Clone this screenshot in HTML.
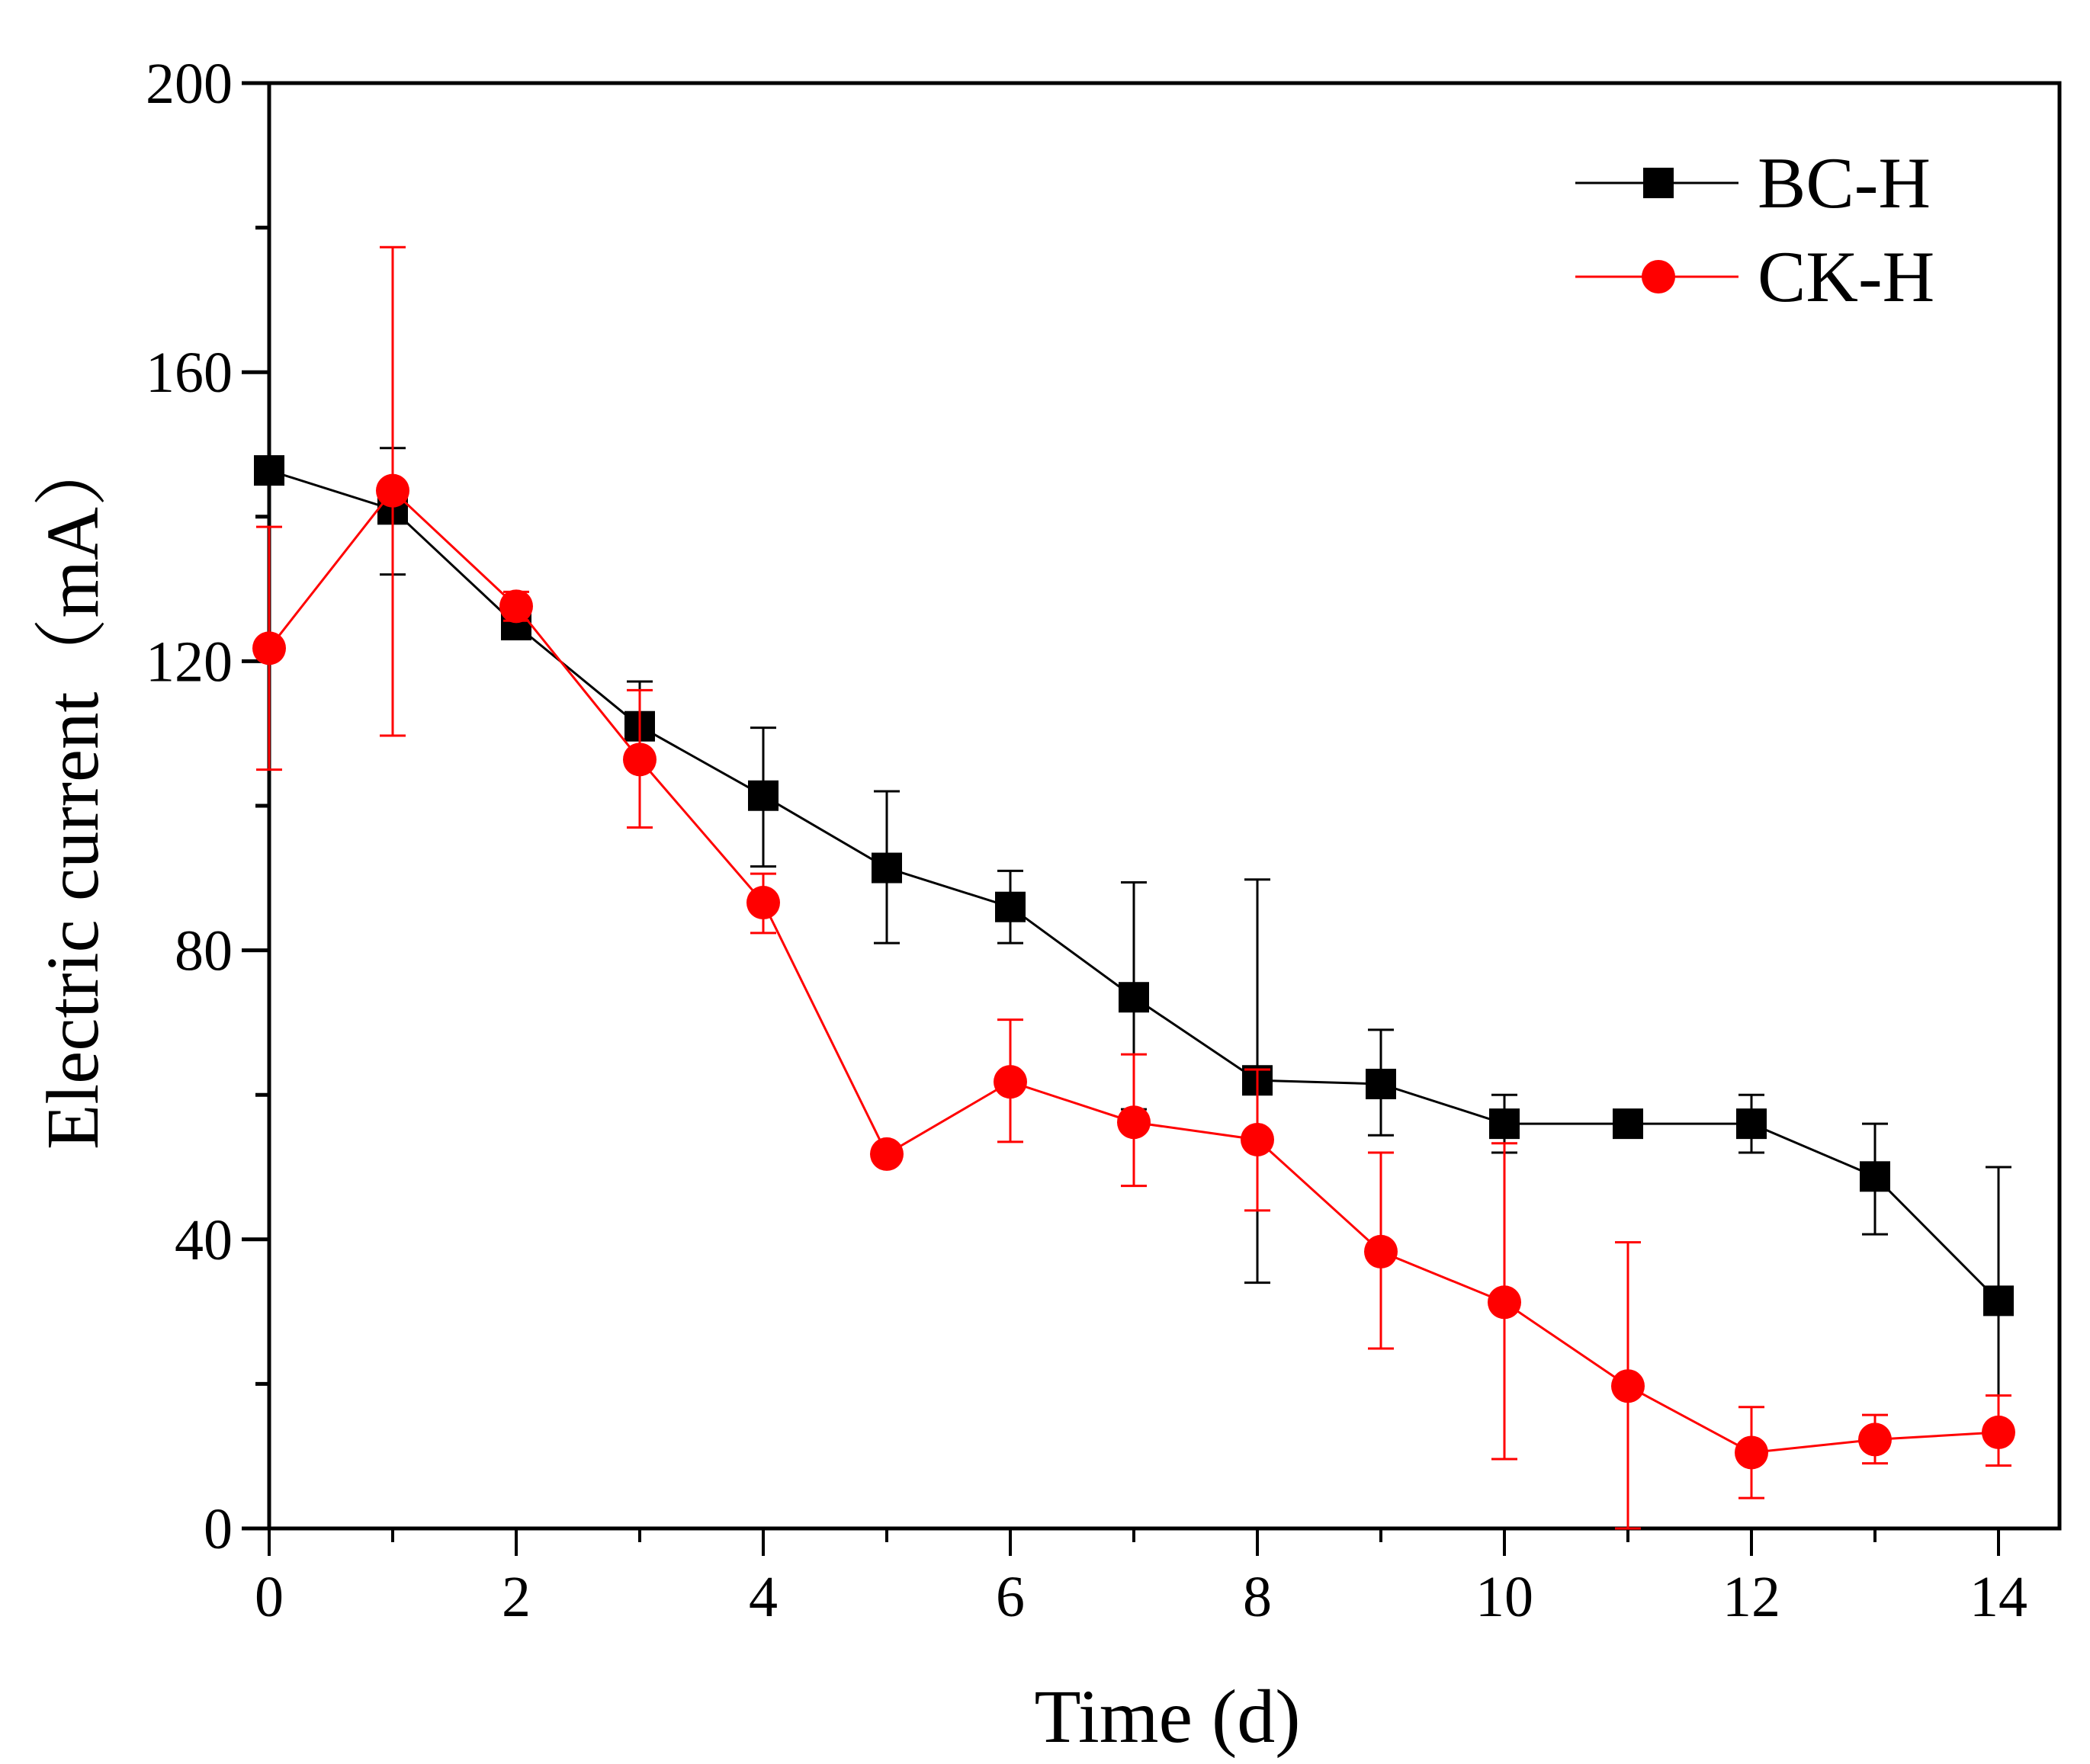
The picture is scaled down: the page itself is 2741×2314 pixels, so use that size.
<!DOCTYPE html>
<html><head><meta charset="utf-8"><style>html,body{margin:0;padding:0;background:#fff}</style></head>
<body>
<svg id="chart" width="2741" height="2309" xmlns="http://www.w3.org/2000/svg" font-family="'Liberation Serif', 'Noto Serif CJK SC', serif">
<g id="axes"></g>
<g id="series"></g>
<text x="1531" y="2285" font-size="100" text-anchor="middle">Time (d)</text>
<text transform="translate(128,1038) rotate(-90)" font-size="97" text-anchor="middle">Electric current（mA）</text>
<g>
<line x1="2066" y1="240" x2="2280" y2="240" stroke="#000" stroke-width="3"/>
<rect x="2155" y="220" width="40" height="40" fill="#000"/>
<text x="2305" y="272" font-size="95">BC-H</text>
<line x1="2066" y1="363" x2="2280" y2="363" stroke="#f00" stroke-width="3"/>
<circle cx="2175" cy="363" r="22" fill="#f00"/>
<text x="2305" y="395" font-size="95">CK-H</text>
</g>
</svg>
<script>
const days = [0,1,2,3,4,5,6,7,8,9,10,11,12,13,14];
const bcValues = [146.4,141,125,111,101.4,91.4,86,73.5,62,61.5,56,56,56,48.7,31.5];
const bcErrHigh = [146.4,149.5,126,117.2,110.8,102,91,89.4,89.8,69,60,56,60,56,50];
const bcErrLow = [146.4,132,124,109.5,91.6,81,81,58,34,54.4,52,56,52,40.7,12.7];
const ckValues = [121.8,143.6,127.6,106.4,86.6,51.8,61.8,56.2,53.8,38.3,31.3,19.7,10.5,12.3,13.3];
const ckErrHigh = [138.6,177.3,129.6,116,90.6,51.8,70.4,65.6,63.5,52,53.3,39.6,16.8,15.7,18.4];
const ckErrLow = [105,109.7,125.6,97,82.4,51.8,53.5,47.4,44,24.9,9.6,0,4.2,9,8.7];
const yTicks = [0,40,80,120,160,200];
const xTicks = [0,2,4,6,8,10,12,14];

const NS='http://www.w3.org/2000/svg';
const X0=353,XS=162,Y0=2005,YS=9.48,XR=2701,YT=109;
const sx=d=>X0+d*XS, sy=v=>Y0-v*YS;
function mk(tag,attrs,parent){const e=document.createElementNS(NS,tag);for(const k in attrs)e.setAttribute(k,attrs[k]);parent.appendChild(e);return e;}
const axes=document.getElementById('axes'), series=document.getElementById('series');
mk('rect',{x:X0,y:YT,width:XR-X0,height:Y0-YT,fill:'none',stroke:'#000','stroke-width':5},axes);
for(let v=0;v<=200;v+=20){const big=v%40===0;const t=mk('line',{x1:X0,x2:X0-(big?36:18),y1:sy(v),y2:sy(v),stroke:'#000','stroke-width':5},axes);

}
yTicks.forEach(v=>{const t=mk('text',{x:X0-48,y:sy(v)+26,'font-size':76,'text-anchor':'end'},axes);t.textContent=v;

});
for(let d=0;d<=14;d++){const big=d%2===0;const t=mk('line',{x1:sx(d),x2:sx(d),y1:Y0,y2:Y0+(big?36:18),stroke:'#000','stroke-width':4},axes);

}
xTicks.forEach(d=>{const t=mk('text',{x:sx(d),y:Y0+115,'font-size':76,'text-anchor':'middle'},axes);t.textContent=d;

});

function draw(vals,hi,lo,color,shape,name){
  const g=mk('g',{},series);
  
  
  days.forEach((d,i)=>{const x=sx(d);
    const e=mk('path',{d:`M${x-17},${sy(hi[i])}H${x+17}M${x},${sy(hi[i])}V${sy(lo[i])}M${x-17},${sy(lo[i])}H${x+17}`,stroke:color,'stroke-width':3,fill:'none'},g);
    
    });
  const l=mk('polyline',{points:days.map((d,i)=>sx(d)+','+sy(vals[i])).join(' '),fill:'none',stroke:color,'stroke-width':3},g);
  
  
  days.forEach((d,i)=>{let m;
    if(shape==='sq')m=mk('rect',{x:sx(d)-20,y:sy(vals[i])-20,width:40,height:40,fill:color},g);
    else m=mk('circle',{cx:sx(d),cy:sy(vals[i]),r:22,fill:color},g);
    
    });
}
draw(bcValues,bcErrHigh,bcErrLow,'#000','sq','bc-h');
draw(ckValues,ckErrHigh,ckErrLow,'#f00','ci','ck-h');
</script>
</body></html>
